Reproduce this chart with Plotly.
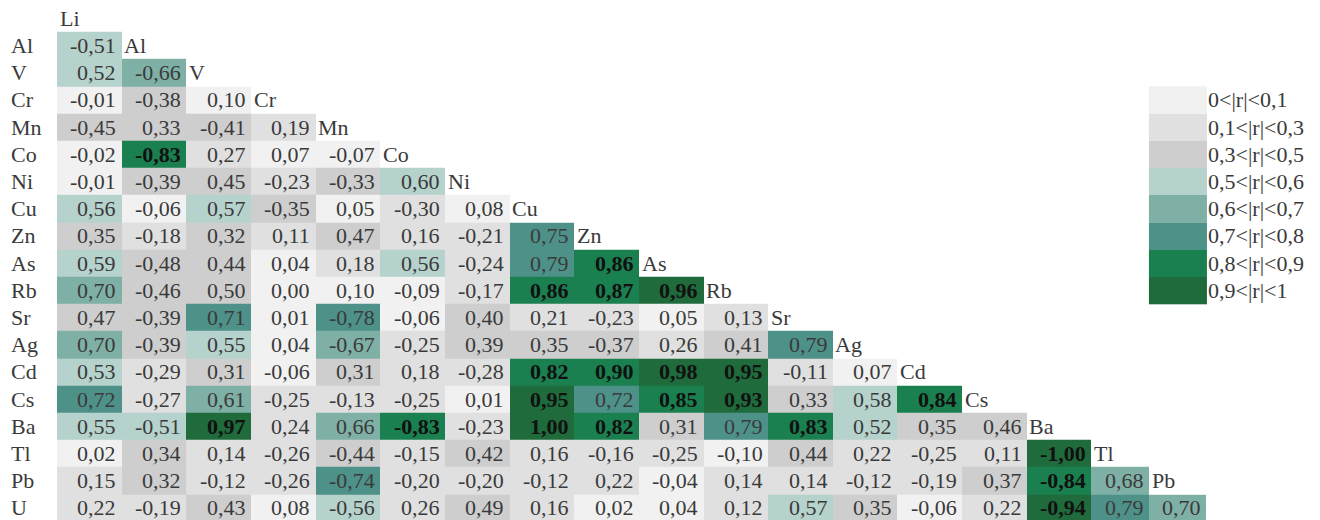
import plotly.graph_objects as go

# Element names: column headers along the diagonal, row labels on the left
columns = ["Li", "Al", "V", "Cr", "Mn", "Co", "Ni", "Cu", "Zn", "As",
           "Rb", "Sr", "Ag", "Cd", "Cs", "Ba", "Tl", "Pb"]
rows = ["Al", "V", "Cr", "Mn", "Co", "Ni", "Cu", "Zn", "As", "Rb",
        "Sr", "Ag", "Cd", "Cs", "Ba", "Tl", "Pb", "U"]

# Lower-triangular Pearson correlation coefficients (row i has i+1 values)
r_Al = [-0.51]
r_V = [0.52, -0.66]
r_Cr = [-0.01, -0.38, 0.10]
r_Mn = [-0.45, 0.33, -0.41, 0.19]
r_Co = [-0.02, -0.83, 0.27, 0.07, -0.07]
r_Ni = [-0.01, -0.39, 0.45, -0.23, -0.33, 0.60]
r_Cu = [0.56, -0.06, 0.57, -0.35, 0.05, -0.30, 0.08]
r_Zn = [0.35, -0.18, 0.32, 0.11, 0.47, 0.16, -0.21, 0.75]
r_As = [0.59, -0.48, 0.44, 0.04, 0.18, 0.56, -0.24, 0.79, 0.86]
r_Rb = [0.70, -0.46, 0.50, 0.00, 0.10, -0.09, -0.17, 0.86, 0.87, 0.96]
r_Sr = [0.47, -0.39, 0.71, 0.01, -0.78, -0.06, 0.40, 0.21, -0.23, 0.05, 0.13]
r_Ag = [0.70, -0.39, 0.55, 0.04, -0.67, -0.25, 0.39, 0.35, -0.37, 0.26, 0.41, 0.79]
r_Cd = [0.53, -0.29, 0.31, -0.06, 0.31, 0.18, -0.28, 0.82, 0.90, 0.98, 0.95,
        -0.11, 0.07]
r_Cs = [0.72, -0.27, 0.61, -0.25, -0.13, -0.25, 0.01, 0.95, 0.72, 0.85, 0.93,
        0.33, 0.58, 0.84]
r_Ba = [0.55, -0.51, 0.97, 0.24, 0.66, -0.83, -0.23, 1.00, 0.82, 0.31, 0.79,
        0.83, 0.52, 0.35, 0.46]
r_Tl = [0.02, 0.34, 0.14, -0.26, -0.44, -0.15, 0.42, 0.16, -0.16, -0.25, -0.10,
        0.44, 0.22, -0.25, 0.11, -1.00]
r_Pb = [0.15, 0.32, -0.12, -0.26, -0.74, -0.20, -0.20, -0.12, 0.22, -0.04, 0.14,
        0.14, -0.12, -0.19, 0.37, -0.84, 0.68]
r_U = [0.22, -0.19, 0.43, 0.08, -0.56, 0.26, 0.49, 0.16, 0.02, 0.04, 0.12,
       0.57, 0.35, -0.06, 0.22, -0.94, 0.79, 0.70]

corr = [r_Al, r_V, r_Cr, r_Mn, r_Co, r_Ni, r_Cu, r_Zn, r_As, r_Rb,
        r_Sr, r_Ag, r_Cd, r_Cs, r_Ba, r_Tl, r_Pb, r_U]

# Class limits for |r| (upper limit inclusive) and their legend texts
class_limits = [0.1, 0.3, 0.5, 0.6, 0.7, 0.8, 0.9, 1.0]
class_labels = ["0<|r|<0,1", "0,1<|r|<0,3", "0,3<|r|<0,5", "0,5<|r|<0,6",
                "0,6<|r|<0,7", "0,7<|r|<0,8", "0,8<|r|<0,9", "0,9<|r|<1"]
class_colors = ["#f1f1f1", "#e0e0e0", "#cecece", "#b6d2cd",
                "#7fb0a6", "#4e9189", "#1b8050", "#1f6b3b"]

FONT = "Liberation Serif"
FS = 22
TXT = "#3a3a3a"


def r_class(v):
    a = round(abs(v), 2)
    for k, lim in enumerate(class_limits):
        if a <= lim + 1e-9:
            return k
    return len(class_limits) - 1


def fmt(v):
    return f"{v:.2f}".replace(".", ",")


# Column edges (the last two spreadsheet columns are a little narrower)
col_widths = [1.0] * 16 + [0.89, 0.89]
edges = [0.0]
for w in col_widths:
    edges.append(edges[-1] + w)

n_rows = len(rows) + 1          # grid row 0 holds the "Li" header
z = [[None] * len(columns) for _ in range(n_rows)]
for i, vals in enumerate(corr):
    for j, v in enumerate(vals):
        z[i + 1][j] = r_class(v)

nc = len(class_colors)
colorscale = []
for k, c in enumerate(class_colors):
    colorscale.append([k / nc, c])
    colorscale.append([(k + 1) / nc, c])

fig = go.Figure()
fig.add_trace(go.Heatmap(
    x=edges, y=list(range(n_rows)), z=z,
    colorscale=colorscale, zmin=-0.5, zmax=nc - 0.5,
    showscale=False, hoverinfo="skip",
))

# Colour key drawn as a one-column block beside rows Cr..Rb
key_rows = list(range(3, 3 + nc))
fig.add_trace(go.Heatmap(
    x=[edges[17], edges[18]], y=key_rows, z=[[k] for k in range(nc)],
    colorscale=colorscale, zmin=-0.5, zmax=nc - 0.5,
    showscale=False, hoverinfo="skip",
))

col_px = 64.65
left_px = 57
width, height = 1320, 520
row_px = 27.2
row0_px = 18.3
plot_w = width - left_px

annotations = []
pad = 0.05
for i, vals in enumerate(corr):
    for j, v in enumerate(vals):
        strong = abs(v) >= 0.8
        annotations.append(dict(
            x=edges[j + 1] - pad, y=i + 1, xref="x", yref="y",
            text=f"<b>{fmt(v)}</b>" if strong else fmt(v),
            xanchor="right", yanchor="middle", showarrow=False,
            font=dict(family=FONT, size=FS, color="#111111" if strong else TXT),
        ))
    # Row label on the left, outside the cell grid
    annotations.append(dict(
        x=(9 - left_px) / plot_w, y=i + 1, xref="paper", yref="y", text=rows[i],
        xanchor="left", yanchor="middle", showarrow=False,
        font=dict(family=FONT, size=FS, color=TXT),
    ))

# Column names written along the diagonal
for k, name in enumerate(columns):
    annotations.append(dict(
        x=edges[k] + 0.01, y=k, xref="x", yref="y", text=name,
        xanchor="left", yanchor="middle", showarrow=False,
        font=dict(family=FONT, size=FS, color=TXT),
    ))

# Colour key texts
for k, lab in enumerate(class_labels):
    annotations.append(dict(
        x=edges[18] + 0.0, y=key_rows[k], xref="x", yref="y", text=lab,
        xanchor="left", yanchor="middle", showarrow=False,
        font=dict(family=FONT, size=FS, color=TXT),
    ))

fig.update_layout(
    width=width, height=height,
    margin=dict(l=left_px, r=0, t=0, b=0),
    plot_bgcolor="white", paper_bgcolor="white",
    annotations=annotations,
    xaxis=dict(range=[0, plot_w / col_px], visible=False,
               showgrid=False, zeroline=False, fixedrange=True),
    yaxis=dict(range=[(height - row0_px) / row_px, -row0_px / row_px],
               visible=False, showgrid=False, zeroline=False, fixedrange=True),
)

fig.write_html("out.html")
